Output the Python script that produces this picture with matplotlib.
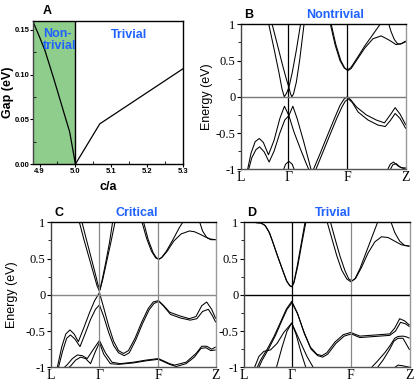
import matplotlib
matplotlib.use("Agg")
import matplotlib.pyplot as plt
from matplotlib.ticker import MultipleLocator

plt.rcParams['font.family'] = ['Liberation Sans', 'DejaVu Sans']
plt.rcParams['axes.unicode_minus'] = False

BLUE = '#1f62ff'
GREEN = '#8fcd8c'

# ---- panel A: gap vs c/a
ca_nontrivial = [4.883, 4.90, 4.915, 4.94, 4.969, 4.984, 5.0]
gap_nontrivial = [0.158, 0.142, 0.127, 0.095, 0.056, 0.036, 0.0]
ca_trivial = [5.0, 5.068, 5.3]
gap_trivial = [0.0, 0.045, 0.1065]
ca_ticks = [4.9, 5.0, 5.1, 5.2, 5.3]
gap_ticks = [0.0, 0.05, 0.10, 0.15]

# ---- band structures (k along L-Γ-F-Z path, energy in eV)
kpath_labels = ['L', 'Γ', 'F', 'Z']
kpath_B = [0.0, 0.287, 0.645, 1.0]
kpath_C = [0.0, 0.294, 0.652, 1.0]
kpath_D = [0.0, 0.288, 0.644, 1.0]
energy_ticks = [-1, -0.5, 0, 0.5, 1]
energy_ticklabels = ['-1', '-0.5', '0', '0.5', '1']

# panel B (nontrivial)
B_C1 = ([0.166, 0.2, 0.23, 0.248, 0.262, 0.276, 0.29, 0.31, 0.335, 0.362],
        [1.02, 0.66, 0.33, 0.11, 0.0, 0.05, 0.13, 0.33, 0.64, 1.02])
B_C2 = ([0.186, 0.22, 0.25, 0.275, 0.29, 0.3, 0.308, 0.318, 0.335, 0.355, 0.383],
        [1.02, 0.72, 0.45, 0.24, 0.13, 0.04, 0.0, 0.04, 0.2, 0.5, 1.02])
B_V1 = ([0.035, 0.06, 0.085, 0.11, 0.135, 0.166, 0.2, 0.235, 0.263, 0.29, 0.32, 0.36, 0.395, 0.42],
        [-1.05, -0.78, -0.62, -0.575, -0.63, -0.80, -0.6, -0.3, -0.13, -0.26, -0.48, -0.72, -0.92, -1.05])
B_V2 = ([0.04, 0.065, 0.09, 0.112, 0.14, 0.17, 0.2, 0.235, 0.265, 0.29, 0.314, 0.34, 0.38, 0.43],
        [-1.05, -0.84, -0.73, -0.69, -0.76, -0.90, -0.75, -0.5, -0.32, -0.26, -0.13, -0.3, -0.62, -1.05])
B_VF1 = ([0.43, 0.48, 0.53, 0.57, 0.60, 0.625, 0.645, 0.665, 0.70, 0.76, 0.82, 0.87, 0.905, 0.935, 0.965, 1.0],
         [-1.05, -0.78, -0.5, -0.28, -0.12, -0.03, 0.0, -0.04, -0.14, -0.25, -0.32, -0.36, -0.25, -0.15, -0.24, -0.39])
B_VF2 = ([0.445, 0.49, 0.54, 0.58, 0.61, 0.632, 0.652, 0.675, 0.71, 0.77, 0.83, 0.875, 0.905, 0.935, 0.965, 1.0],
         [-1.05, -0.8, -0.52, -0.3, -0.15, -0.06, -0.03, -0.08, -0.21, -0.32, -0.39, -0.41, -0.33, -0.23, -0.3, -0.44])
B_CF1 = ([0.54, 0.57, 0.60, 0.625, 0.645, 0.665, 0.70, 0.75, 0.80, 0.85],
         [1.02, 0.72, 0.5, 0.4, 0.37, 0.4, 0.52, 0.7, 0.86, 1.02])
B_CF2 = ([0.545, 0.575, 0.605, 0.628, 0.648, 0.668, 0.70, 0.75, 0.80, 0.85, 0.9, 0.94, 0.97, 1.0],
         [1.02, 0.72, 0.5, 0.4, 0.36, 0.39, 0.5, 0.67, 0.8, 0.84, 0.78, 0.72, 0.73, 0.76])
B_CZ = ([0.89, 0.91, 0.93, 0.95, 0.97, 1.0], [1.05, 0.9, 0.79, 0.73, 0.73, 0.77])
B_VG3 = ([0.25, 0.27, 0.29, 0.31, 0.33], [-1.05, -0.93, -0.89, -0.93, -1.05])
B_VZ3 = ([0.88, 0.905, 0.925, 0.95, 0.975, 1.0], [-1.05, -0.93, -0.9, -0.95, -0.98, -0.98])
B_VZ4 = ([0.895, 0.92, 0.94, 0.965, 1.0], [-1.05, -0.94, -0.92, -0.97, -1.0])

# panel C (critical)
C_C1 = ([0.17, 0.2, 0.23, 0.26, 0.28, 0.294, 0.31, 0.33, 0.355, 0.375],
        [1.02, 0.76, 0.52, 0.28, 0.12, 0.05, 0.2, 0.42, 0.72, 1.02])
C_C2 = ([0.186, 0.215, 0.245, 0.27, 0.285, 0.298, 0.315, 0.34, 0.365, 0.39],
        [1.02, 0.76, 0.5, 0.28, 0.14, 0.07, 0.22, 0.48, 0.74, 1.02])
C_V1 = ([0.034, 0.065, 0.09, 0.115, 0.14, 0.166, 0.2, 0.235, 0.265, 0.294, 0.32, 0.35, 0.38, 0.41,
         0.44, 0.47, 0.51, 0.55, 0.59, 0.62, 0.652, 0.68, 0.72, 0.78, 0.84, 0.88, 0.915, 0.945, 0.975, 1.0],
        [-1.05, -0.72, -0.54, -0.485, -0.54, -0.646, -0.45, -0.24, -0.08, 0.03, -0.18, -0.43, -0.64, -0.77,
         -0.81, -0.77, -0.6, -0.38, -0.19, -0.1, -0.08, -0.14, -0.24, -0.29, -0.33, -0.3, -0.15, -0.1, -0.2, -0.33])
C_V2 = ([0.04, 0.07, 0.095, 0.118, 0.145, 0.176, 0.21, 0.24, 0.27, 0.294, 0.32, 0.35, 0.38, 0.41,
         0.445, 0.475, 0.515, 0.555, 0.595, 0.625, 0.655, 0.685, 0.725, 0.785, 0.845, 0.885, 0.92, 0.955, 0.98, 1.0],
        [-1.05, -0.78, -0.6, -0.554, -0.61, -0.715, -0.52, -0.34, -0.2, -0.14, -0.3, -0.52, -0.7, -0.8,
         -0.84, -0.8, -0.62, -0.4, -0.21, -0.12, -0.09, -0.16, -0.27, -0.32, -0.35, -0.33, -0.23, -0.2, -0.29, -0.38])
C_V3 = ([0.06, 0.1, 0.13, 0.16, 0.19, 0.22, 0.255, 0.294, 0.33, 0.37, 0.42, 0.5, 0.58, 0.652,
         0.72, 0.75, 0.82, 0.88, 0.915, 0.945, 0.975, 1.0],
        [-1.05, -0.96, -0.88, -0.83, -0.84, -0.88, -0.76, -0.63, -0.8, -0.93, -0.95, -0.93, -0.9, -0.88,
         -0.95, -0.97, -0.93, -0.81, -0.71, -0.71, -0.75, -0.72])
C_V4 = ([0.08, 0.12, 0.15, 0.18, 0.21, 0.24, 0.27, 0.294, 0.32, 0.36, 0.41, 0.5, 0.58, 0.652,
         0.72, 0.76, 0.82, 0.87, 0.91, 0.94, 0.97, 1.0],
        [-1.05, -0.98, -0.9, -0.86, -0.88, -0.95, -0.78, -0.66, -0.82, -0.95, -0.96, -0.94, -0.91, -0.89,
         -0.96, -0.99, -0.95, -0.86, -0.74, -0.73, -0.77, -0.76])
C_CF1 = ([0.55, 0.58, 0.61, 0.635, 0.652, 0.67, 0.7, 0.74, 0.78, 0.805],
         [1.02, 0.78, 0.6, 0.51, 0.49, 0.51, 0.6, 0.76, 0.93, 1.02])
C_CF2 = ([0.56, 0.59, 0.62, 0.64, 0.656, 0.675, 0.705, 0.745, 0.79, 0.84, 0.87, 0.9, 0.935, 0.965, 1.0],
         [1.02, 0.76, 0.58, 0.51, 0.49, 0.52, 0.6, 0.74, 0.84, 0.88, 0.87, 0.84, 0.8, 0.77, 0.76])
C_CZ = ([0.9, 0.92, 0.945, 0.97, 1.0], [1.02, 0.88, 0.79, 0.76, 0.76])

# panel D (trivial)
D_C1 = ([0.07, 0.1, 0.125, 0.15, 0.17, 0.2, 0.23, 0.255, 0.275, 0.288, 0.3, 0.32, 0.345, 0.37],
        [0.995, 0.99, 0.96, 0.87, 0.75, 0.55, 0.36, 0.2, 0.13, 0.11, 0.16, 0.38, 0.7, 1.02])
D_C2 = ([0.075, 0.105, 0.13, 0.155, 0.175, 0.205, 0.235, 0.26, 0.278, 0.29, 0.303, 0.325, 0.35, 0.375],
        [0.995, 0.99, 0.95, 0.85, 0.72, 0.52, 0.33, 0.18, 0.12, 0.115, 0.18, 0.4, 0.72, 1.02])
D_CF1 = ([0.5, 0.53, 0.56, 0.59, 0.62, 0.644, 0.67, 0.7, 0.74, 0.78, 0.81],
         [1.02, 0.78, 0.54, 0.34, 0.22, 0.18, 0.22, 0.36, 0.6, 0.84, 1.02])
D_CF2 = ([0.52, 0.55, 0.58, 0.61, 0.632, 0.652, 0.675, 0.71, 0.75, 0.79, 0.83, 0.87, 0.91, 0.95, 1.0],
         [1.02, 0.77, 0.53, 0.33, 0.22, 0.19, 0.23, 0.38, 0.58, 0.73, 0.8, 0.79, 0.74, 0.69, 0.67])
D_CZ = ([0.885, 0.91, 0.94, 0.97, 1.0], [1.02, 0.86, 0.74, 0.68, 0.67])
D_V1 = ([0.07, 0.1, 0.14, 0.18, 0.22, 0.255, 0.288, 0.32, 0.36, 0.40, 0.44, 0.47, 0.5, 0.55, 0.6, 0.644,
         0.7, 0.76, 0.82, 0.88, 0.91, 0.94, 0.97, 1.0],
        [-1.05, -0.9, -0.75, -0.58, -0.38, -0.2, -0.09, -0.24, -0.5, -0.72, -0.82, -0.84, -0.8, -0.65, -0.55, -0.52,
         -0.57, -0.56, -0.55, -0.54, -0.46, -0.33, -0.36, -0.42])
D_V2 = ([0.08, 0.11, 0.15, 0.19, 0.23, 0.26, 0.29, 0.325, 0.365, 0.405, 0.445, 0.475, 0.505, 0.555, 0.605, 0.648,
         0.7, 0.76, 0.82, 0.88, 0.915, 0.945, 0.975, 1.0],
        [-1.05, -0.9, -0.74, -0.56, -0.35, -0.2, -0.11, -0.27, -0.54, -0.75, -0.84, -0.86, -0.82, -0.67, -0.57, -0.54,
         -0.59, -0.58, -0.57, -0.56, -0.5, -0.38, -0.4, -0.44])
D_V3 = ([0.19, 0.23, 0.26, 0.288, 0.315, 0.345, 0.38],
        [-1.05, -0.72, -0.5, -0.39, -0.55, -0.8, -1.05])
D_V4 = ([0.055, 0.09, 0.12, 0.16, 0.2, 0.24, 0.288, 0.33, 0.38, 0.43],
        [-1.05, -0.85, -0.78, -0.76, -0.67, -0.52, -0.39, -0.6, -0.85, -1.05])
D_VZ1 = ([0.75, 0.8, 0.85, 0.885, 0.91, 0.93, 0.96, 0.98, 1.0],
         [-1.05, -0.93, -0.8, -0.69, -0.6, -0.575, -0.57, -0.58, -0.6])
D_VZ2 = ([0.79, 0.84, 0.88, 0.905, 0.93, 0.96, 0.98, 1.0],
         [-1.05, -0.9, -0.75, -0.64, -0.6, -0.6, -0.68, -0.76])
D_VZ3 = ([0.9, 0.93, 0.96, 1.0], [-1.02, -0.97, -0.98, -1.0])

bands_B = [B_C1, B_C2, B_V1, B_V2, B_VF1, B_VF2, B_CF1, B_CF2, B_CZ, B_VG3, B_VZ3, B_VZ4]
bands_C = [C_C1, C_C2, C_V1, C_V2, C_V3, C_V4, C_CF1, C_CF2, C_CZ]
bands_D = [D_C1, D_C2, D_CF1, D_CF2, D_CZ, D_V1, D_V2, D_V3, D_V4, D_VZ1, D_VZ2, D_VZ3]


def band_panel(ax, bands, kpath, letter, title, title_x, ylabel_x=None,
               g_col='black', f_col='black', zero_col='#777777'):
    for k, e in bands:
        ax.plot(k, e, color='black', lw=0.75, solid_capstyle='butt')
    ax.axvline(kpath[1], color=g_col, lw=0.9)
    ax.axvline(kpath[2], color=f_col, lw=0.9)
    ax.axhline(0, color=zero_col, lw=1.0)
    ax.set_xlim(0, 1)
    ax.set_ylim(-1, 1)
    ax.set_xticks(kpath)
    ax.set_xticklabels(kpath_labels, fontfamily='Liberation Serif', fontsize=10)
    ax.set_yticks(energy_ticks)
    ax.set_yticklabels(energy_ticklabels, fontfamily='Liberation Serif', fontsize=9)
    ax.yaxis.set_minor_locator(MultipleLocator(0.25))
    ax.tick_params(axis='x', length=0, pad=1)
    ax.tick_params(axis='y', which='major', length=3, width=0.8, pad=1, direction='out')
    ax.tick_params(axis='y', which='minor', length=2, width=0.6, direction='out')
    ax.spines['top'].set_color('black')
    ax.spines['left'].set_color('#444444')
    ax.spines['bottom'].set_color('#555555')
    ax.spines['right'].set_color('#999999')
    for s in ax.spines.values():
        s.set_linewidth(1.0)
    if ylabel_x is not None:
        ax.set_ylabel('Energy (eV)', fontsize=9)
        ax.yaxis.set_label_coords(ylabel_x, 0.5)
    ax.text(0.02, 1.025, letter, transform=ax.transAxes, fontsize=9,
            fontweight='bold', va='bottom', ha='left')
    ax.text(title_x, 1.025, title, transform=ax.transAxes, fontsize=9,
            fontweight='bold', color=BLUE, va='bottom', ha='center')


fig = plt.figure(figsize=(4.15, 3.88), dpi=100)
axA = fig.add_axes([0.0807, 0.577, 0.360, 0.369])
axB = fig.add_axes([0.581, 0.5637, 0.397, 0.3737])
axC = fig.add_axes([0.1229, 0.0534, 0.397, 0.3737])
axD = fig.add_axes([0.588, 0.0534, 0.399, 0.3737])

# panel A
axA.axvspan(4.883, 5.0, color=GREEN, lw=0)
axA.axvline(5.0, color='black', lw=1.0)
axA.plot(ca_nontrivial, gap_nontrivial, color='black', lw=0.9)
axA.plot(ca_trivial, gap_trivial, color='black', lw=0.9)
axA.set_xlim(4.883, 5.3)
axA.set_ylim(0, 0.16)
axA.set_xticks(ca_ticks)
axA.set_xticklabels(['4.9', '5.0', '5.1', '5.2', '5.3'])
axA.set_yticks(gap_ticks)
axA.set_yticklabels(['0.00', '0.05', '0.10', '0.15'])
axA.xaxis.set_minor_locator(MultipleLocator(0.05))
axA.yaxis.set_minor_locator(MultipleLocator(0.025))
axA.tick_params(which='major', length=2.5, width=0.8, pad=0.5, labelsize=5.5)
axA.tick_params(which='minor', length=2, width=0.6, direction='in')
for lab in axA.get_xticklabels() + axA.get_yticklabels():
    lab.set_fontweight('bold')
for s in axA.spines.values():
    s.set_linewidth(1.0)
axA.spines['left'].set_color('#444444')
axA.set_xlabel('c/a', fontsize=9, fontweight='bold')
axA.xaxis.set_label_coords(0.5, -0.115)
axA.set_ylabel('Gap (eV)', fontsize=9, fontweight='bold')
axA.yaxis.set_label_coords(-0.128, 0.5)
axA.text(4.9095, 0.152, 'Non-\ntrivial', fontsize=9, fontweight='bold', color=BLUE,
         va='top', ha='left', linespacing=1.0)
axA.text(5.149, 0.144, 'Trivial', fontsize=9, fontweight='bold', color=BLUE,
         va='center', ha='center')
axA.text(0.06, 1.025, 'A', transform=axA.transAxes, fontsize=9, fontweight='bold',
         va='bottom', ha='left')

band_panel(axB, bands_B, kpath_B, 'B', 'Nontrivial', 0.57, ylabel_x=-0.17)
band_panel(axC, bands_C, kpath_C, 'C', 'Critical', 0.52, ylabel_x=-0.2,
           g_col='#888888', f_col='#888888', zero_col='#888888')
band_panel(axD, bands_D, kpath_D, 'D', 'Trivial', 0.54,
           g_col='black', f_col='#888888', zero_col='black')

fig.savefig('out.png', dpi=100)
